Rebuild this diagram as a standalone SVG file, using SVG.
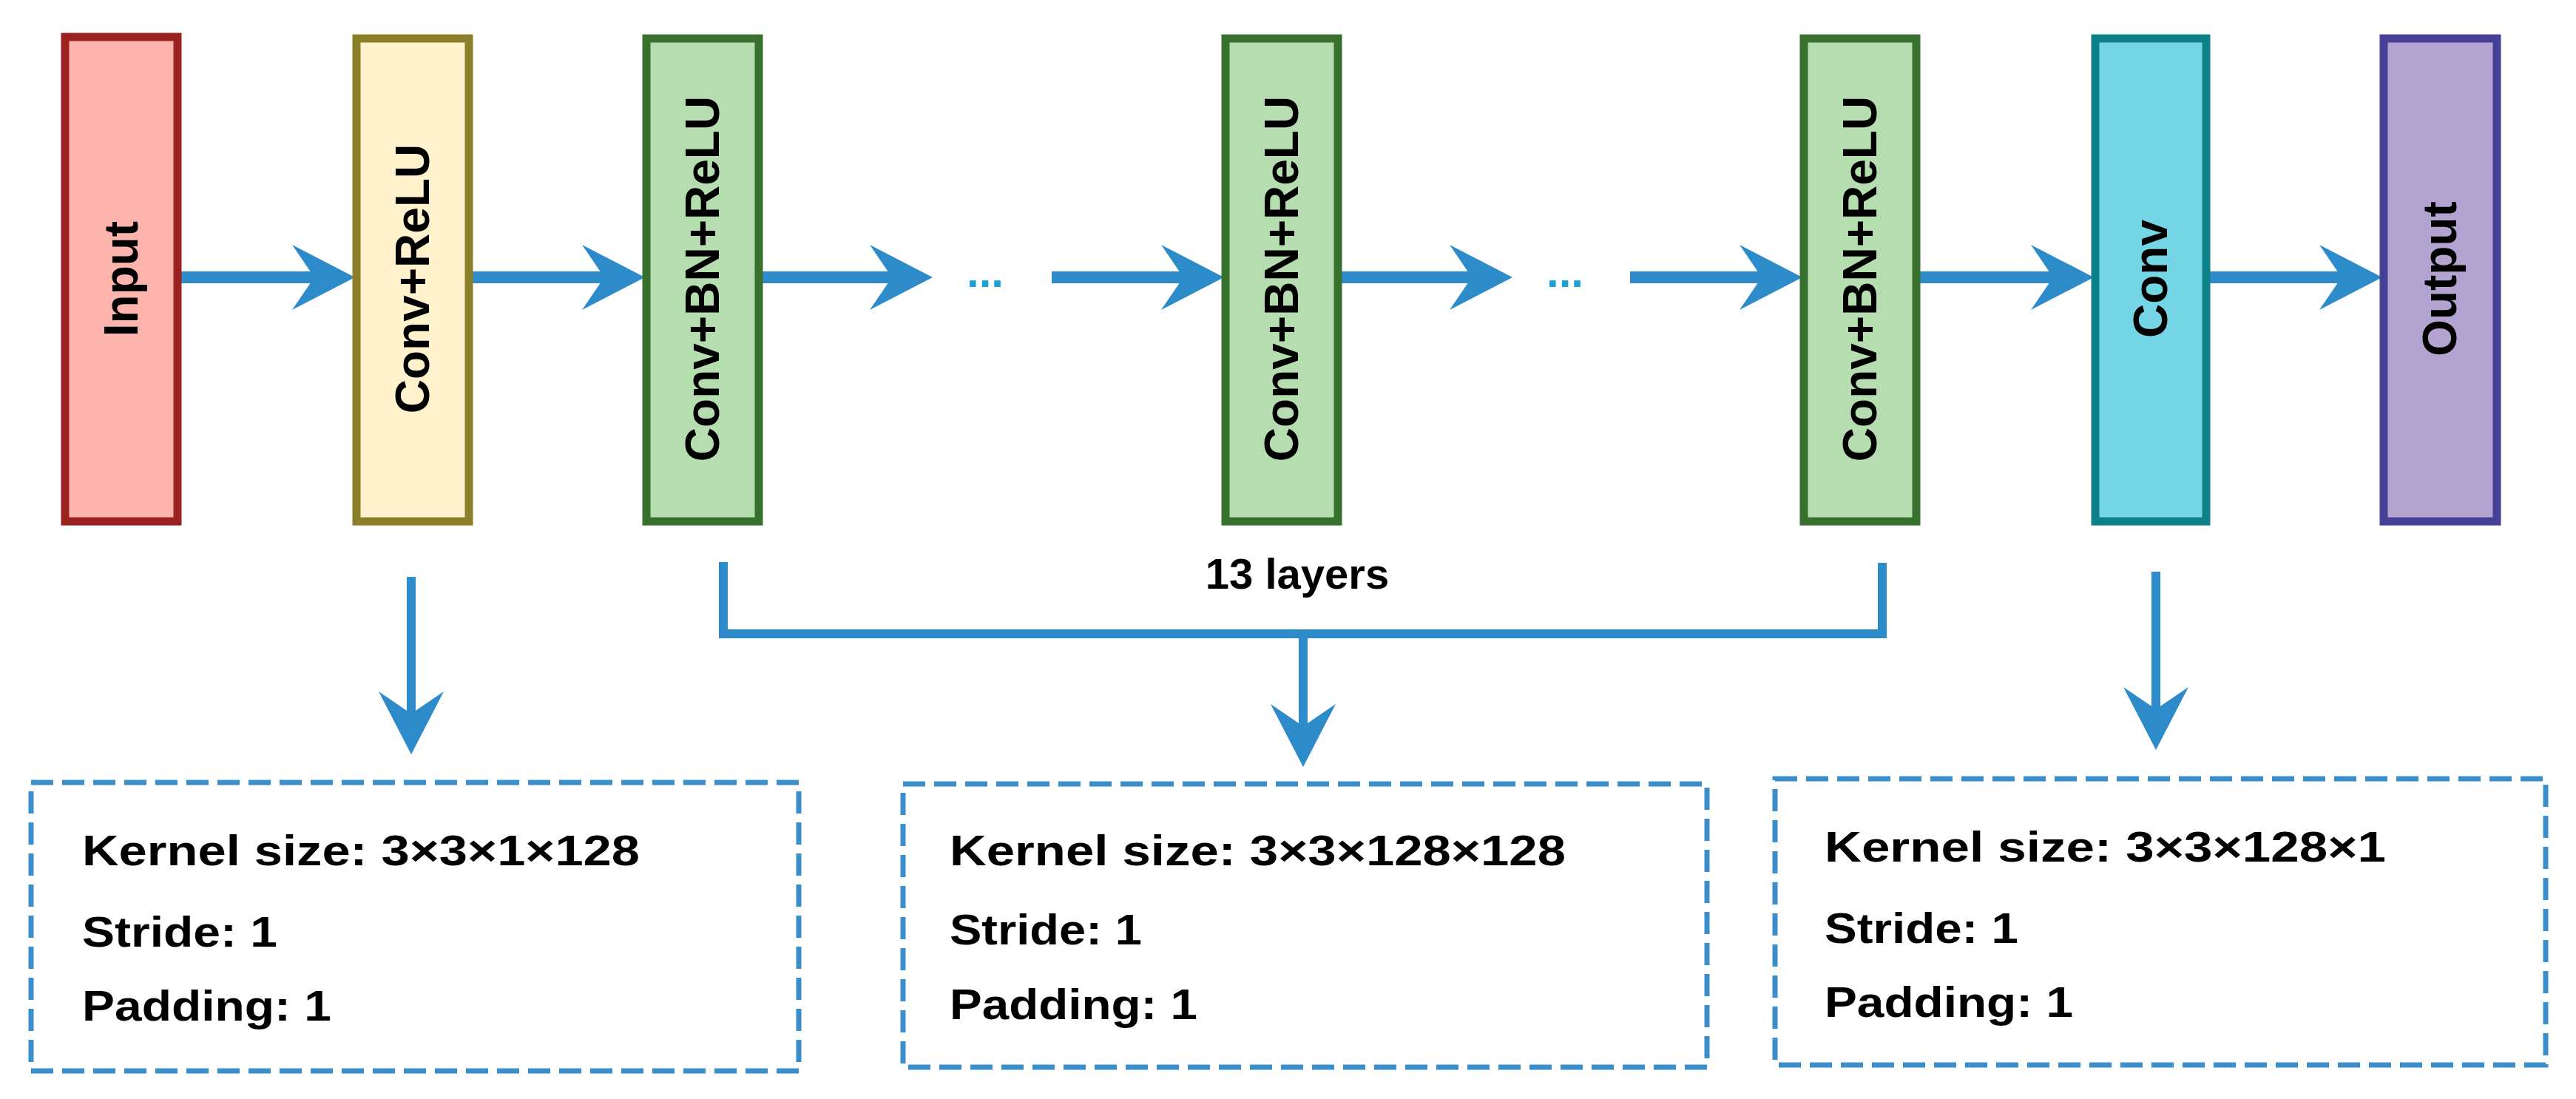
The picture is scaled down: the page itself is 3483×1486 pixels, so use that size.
<svg xmlns="http://www.w3.org/2000/svg" xmlns:xlink="http://www.w3.org/1999/xlink" width="3483" height="1486" viewBox="0 0 3483 1486">
<style>
.blk{stroke-width:11}
.lbl{font-family:"Liberation Sans",Arial,sans-serif;font-weight:bold;font-size:64px;fill:#000;text-anchor:middle;dominant-baseline:central}
.ln{stroke:#2E8BC9;fill:none}
.ah{fill:#2E8BC9}
.dash{fill:#fff;stroke:#3A8FCB;stroke-width:7;stroke-dasharray:30 12}
.bt{font-family:"Liberation Sans",Arial,sans-serif;font-weight:bold;font-size:58px;fill:#000}
.dots{font-family:"Liberation Sans",Arial,sans-serif;font-weight:bold;font-size:60px;fill:#1BA1D8}
</style>
<defs>
<path id="ah" d="M0,0 L-85,-44 L-55,0 L-85,44 Z"/>
</defs>
<rect width="3483" height="1486" fill="#fff"/>
<g id="connectors">
<g class="ln" stroke-width="16">
<path d="M245,375 H440"/><path d="M637,375 H832"/><path d="M1029,375 H1221"/><path d="M1422,375 H1615"/>
<path d="M1810,375 H2005"/><path d="M2204,375 H2397"/><path d="M2594,375 H2791"/><path d="M2985,375 H3181"/>
</g>
<g class="ah">
<use xlink:href="#ah" transform="translate(480,375)"/><use xlink:href="#ah" transform="translate(872,375)"/>
<use xlink:href="#ah" transform="translate(1261,375)"/><use xlink:href="#ah" transform="translate(1655,375)"/>
<use xlink:href="#ah" transform="translate(2045,375)"/><use xlink:href="#ah" transform="translate(2437,375)"/>
<use xlink:href="#ah" transform="translate(2831,375)"/><use xlink:href="#ah" transform="translate(3221,375)"/>
</g>
<text class="dots" x="1307" y="388">...</text>
<text class="dots" x="2091" y="388">...</text>
<g class="ln" stroke-width="12">
<path d="M556,780 V985"/>
<path d="M978,760 V857 H2545 V761"/>
<path d="M1762,857 V1000"/>
<path d="M2915,773 V978"/>
</g>
<g class="ah">
<use xlink:href="#ah" transform="translate(556,1020) rotate(90)"/>
<use xlink:href="#ah" transform="translate(1762,1037) rotate(90)"/>
<use xlink:href="#ah" transform="translate(2915,1014) rotate(90)"/>
</g>
<text class="bt" x="1754" y="796" text-anchor="middle">13 layers</text>
</g>
<g id="input"><rect class="blk" x="88" y="50" width="152" height="655" fill="#FDB4AC" stroke="#9B2020"/><text class="lbl" transform="translate(164,377) rotate(-90)">Input</text></g>
<g id="conv-relu"><rect class="blk" x="482" y="52" width="152" height="653" fill="#FFF2CC" stroke="#8B7F2A"/><text class="lbl" transform="translate(558,377) rotate(-90)">Conv+ReLU</text></g>
<g id="cbr1"><rect class="blk" x="874" y="52" width="152" height="653" fill="#B5DDB0" stroke="#38702E"/><text class="lbl" transform="translate(950,377) rotate(-90)">Conv+BN+ReLU</text></g>
<g id="cbr2"><rect class="blk" x="1657" y="52" width="152" height="653" fill="#B5DDB0" stroke="#38702E"/><text class="lbl" transform="translate(1733,377) rotate(-90)">Conv+BN+ReLU</text></g>
<g id="cbr3"><rect class="blk" x="2439" y="52" width="152" height="653" fill="#B5DDB0" stroke="#38702E"/><text class="lbl" transform="translate(2515,377) rotate(-90)">Conv+BN+ReLU</text></g>
<g id="conv"><rect class="blk" x="2833" y="52" width="150" height="653" fill="#74D5E4" stroke="#0E8088"/><text class="lbl" transform="translate(2908,377) rotate(-90)">Conv</text></g>
<g id="output"><rect class="blk" x="3223" y="52" width="153" height="653" fill="#B3A3D1" stroke="#463F96"/><text class="lbl" transform="translate(3299,377) rotate(-90)">Output</text></g>
<g id="box1"><rect class="dash" x="42" y="1058" width="1038" height="390"/>
<text class="bt" x="111" y="1170" textLength="754" lengthAdjust="spacingAndGlyphs">Kernel size: 3×3×1×128</text>
<text class="bt" x="111" y="1280" textLength="264" lengthAdjust="spacingAndGlyphs">Stride: 1</text>
<text class="bt" x="111" y="1380" textLength="337" lengthAdjust="spacingAndGlyphs">Padding: 1</text></g>
<g id="box2"><rect class="dash" x="1221" y="1060" width="1087" height="383"/>
<text class="bt" x="1284" y="1170" textLength="833" lengthAdjust="spacingAndGlyphs">Kernel size: 3×3×128×128</text>
<text class="bt" x="1284" y="1277" textLength="260" lengthAdjust="spacingAndGlyphs">Stride: 1</text>
<text class="bt" x="1284" y="1378" textLength="335" lengthAdjust="spacingAndGlyphs">Padding: 1</text></g>
<g id="box3"><rect class="dash" x="2400" y="1053" width="1042" height="387"/>
<text class="bt" x="2467" y="1165" textLength="759" lengthAdjust="spacingAndGlyphs">Kernel size: 3×3×128×1</text>
<text class="bt" x="2467" y="1275" textLength="262" lengthAdjust="spacingAndGlyphs">Stride: 1</text>
<text class="bt" x="2467" y="1375" textLength="336" lengthAdjust="spacingAndGlyphs">Padding: 1</text></g>
</svg>
